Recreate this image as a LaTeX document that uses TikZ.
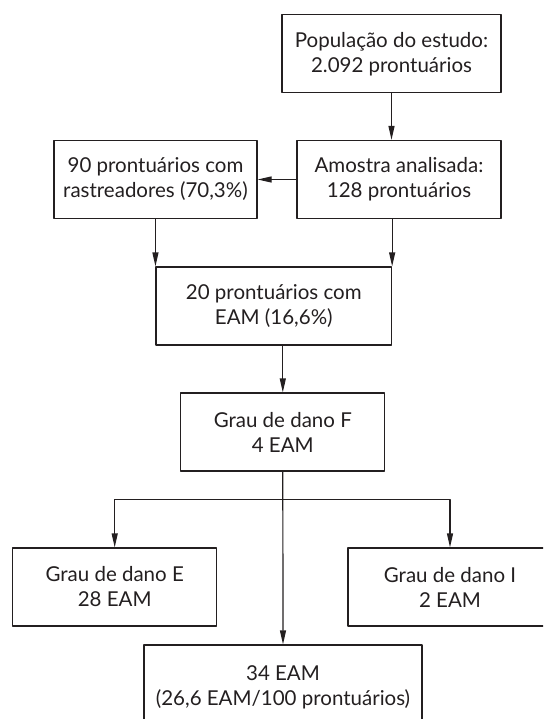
\documentclass[tikz,border=0pt]{standalone}
\usepackage{fontspec}
\setmainfont{Lato}
\usetikzlibrary{arrows.meta}
\definecolor{tinta}{HTML}{231F20}
\begin{document}
\begin{tikzpicture}[x=1pt,y=-1pt,font=\fontsize{20.5}{25}\selectfont,line join=round,
  >={Triangle[length=14pt,width=6pt]},color=tinta,line width=1.2pt,
  caixa/.style={draw,align=center,inner sep=0pt,minimum height=78pt}]
	\useasboundingbox (0,0) rectangle (543,719);
	\clip (0,0) rectangle (543,719);
	\node[caixa,minimum width=219pt] (pop) at (391.5,53.8) {População do estudo:\\2.092 prontuários};
	\node[caixa,minimum width=204pt] (amostra) at (399,179.5) {Amostra analisada:\\128 prontuários};
	\node[caixa,minimum width=203pt] (rast) at (155.5,179.5) {90 prontuários com\\rastreadores (70,3\%)};
	\node[caixa,minimum width=235.5pt] (vinte) at (273.8,306) {20 prontuários com\\EAM (16,6\%)};
	\node[caixa,minimum width=204pt] (grauF) at (282.8,432) {Grau de dano F\\4 EAM};
	\node[caixa,minimum width=204pt] (grauE) at (114.7,587) {Grau de dano E\\28 EAM};
	\node[caixa,minimum width=204pt] (grauI) at (450,587) {Grau de dano I\\2 EAM};
	\node[caixa,minimum width=278pt,minimum height=84pt] (total) at (283,687) {34 EAM\\(26,6 EAM/100 prontuários)};
	\coordinate (ramo) at (282.8,499.3);
	\draw[->] (pop.south) -- (pop.south |- amostra.north);
	\draw[->] (amostra.west) -- (rast.east);
	\draw[->] (rast.south -| vinte.north west) -- (vinte.north west);
	\draw[->] (amostra.south -| vinte.north east) -- (vinte.north east);
	\draw[->] (vinte.south -| grauF.north) -- (grauF.north);
	\draw[->] (grauF.south) -- (total.north);
	\draw[->] (ramo) -| (grauE.north);
	\draw[->] (ramo) -| (grauI.north);
\end{tikzpicture}
\end{document}
